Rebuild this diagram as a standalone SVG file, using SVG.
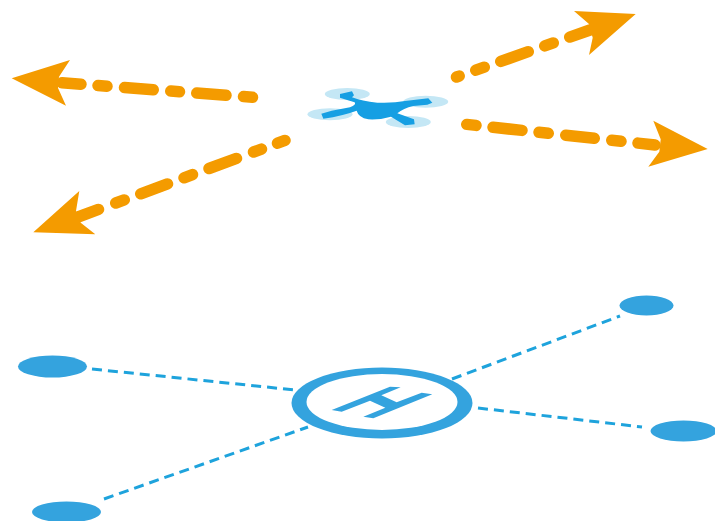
<svg xmlns="http://www.w3.org/2000/svg" width="715" height="521" viewBox="0 0 715 521">
<style>
.dash{fill:none;stroke:#f49b00;stroke-width:11.5;stroke-linecap:round}
.head{fill:#f49b00}
.link{fill:none;stroke:#1ea3dc;stroke-width:3;stroke-dasharray:10 6}
.pad{fill:#34a3de}
.rotor{fill:#c4e7f5}
.body{fill:#169fe3}
</style>
<rect width="715" height="521" fill="#fff"/>
<g id="connectors">
<g id="flight-arrows">
<g id="arrow-left"><path class="dash" d="M62 82.8L81 84.2M98 85.5L107 86.2M124.5 87.6L153.25 89.8M170.75 91.1L179.5 91.8M196.75 93.1L226 95.3M243.5 96.6L252.5 97.3"/><path class="head" d="M11.7 78.3L70 60L59 76.7L58 88L66 105.7Z"/></g>
<g id="arrow-lower-left"><path class="dash" d="M78 217L98.5 209.4M115.75 203L124.25 199.9M140.75 193.8L167.5 183.9M184 177.8L192.5 174.6M209 168.5L236.5 158.4M253.5 152L261.5 149.1M277.5 143.2L285 140.4"/><path class="head" d="M33.3 232.3L79.3 191L76 211L80.7 222.7L95.3 234.3Z"/></g>
<g id="arrow-upper-right"><path class="dash" d="M456.5 77L459.2 76.05M475.75 70.2L484.25 67.2M500.75 61.4L528.25 51.7M544.75 45.9L553.25 42.9M569.75 37.1L590 30"/><path class="head" d="M635.7 14L574 11L589 24L592.7 37.7L589 55Z"/></g>
<g id="arrow-right"><path class="dash" d="M466.75 124.4L476 125.4M493 127.3L522 130.4M539 132.3L548.25 133.3M565.75 135.2L594.25 138.3M611.75 140.3L621 141.3M638 143.1L655 145"/><path class="head" d="M707.7 149L653.3 120.7L660.7 139.3L659.3 151.7L648.3 166.7Z"/></g>
</g>
<g id="pad-links">
<path class="link" d="M92 369L295 390"/>
<path class="link" d="M452 379L620 316"/>
<path class="link" d="M478 408L642 427"/>
<path class="link" d="M104 499L308 427"/>
</g>
</g>
<g id="drone">
<ellipse class="rotor" cx="347.3" cy="94" rx="22.5" ry="6"/>
<ellipse class="rotor" cx="425.7" cy="101.7" rx="22.5" ry="6"/>
<ellipse class="rotor" cx="330" cy="114.3" rx="22.5" ry="6"/>
<ellipse class="rotor" cx="408.3" cy="122" rx="22.5" ry="6"/>
<path class="body" transform="translate(290 70) scale(.3333)" d="M150 72L186 64L192 76L186 82Q215 94 262 98Q310 100 345 93L415 85L427 98L412 104L370 108Q340 115 322 130L372 148L374 163L345 166L303 140Q270 150 235 148Q205 142 200 122Q160 137 100 146L94 131L125 122L180 112Q200 105 194 97Q172 90 150 83Z"/>
</g>
<g id="helipad">
<ellipse class="pad" cx="382" cy="403" rx="90.5" ry="35.5"/>
<ellipse cx="382" cy="402" rx="75.5" ry="28" fill="#fff"/>
<path class="pad" transform="translate(280 355) scale(.3333)" d="M330 95L362 97L304 121L350 142L425 113L457 118L280 190L250 185L316 158L270 137L185 170L155 165Z"/>
</g>
<g id="node-left"><ellipse class="pad" cx="52.5" cy="366.5" rx="34.5" ry="11"/></g>
<g id="node-top-right"><ellipse class="pad" cx="646.5" cy="305.5" rx="27" ry="10"/></g>
<g id="node-right"><ellipse class="pad" cx="683.5" cy="431" rx="33" ry="10.5"/></g>
<g id="node-bottom-left"><ellipse class="pad" cx="66.5" cy="512" rx="34.5" ry="10.5"/></g>
</svg>
